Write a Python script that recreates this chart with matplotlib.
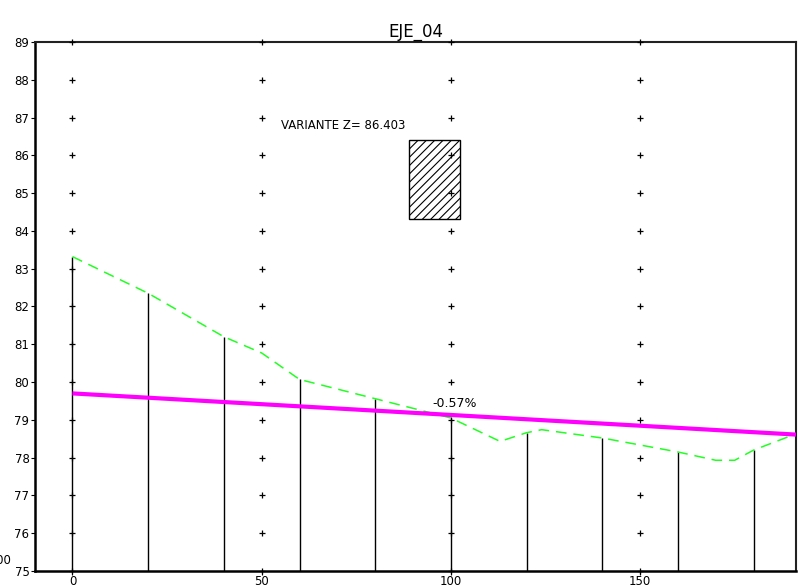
import numpy as np
import matplotlib
matplotlib.use("Agg")
import matplotlib.pyplot as plt
from matplotlib.patches import Rectangle

TITLE = "EJE_04"

# Terrain profile (green dashed)
terrain_x = [0, 20, 40, 50, 60, 80, 100, 113, 120, 124, 140, 160, 170, 175, 180, 191.2]
terrain_z = [83.32, 82.35, 81.2, 80.77, 80.07, 79.56, 79.05, 78.43, 78.66, 78.74, 78.52, 78.15, 77.93, 77.93, 78.2, 78.63]

# Station verticals
station_x = [0, 20, 40, 60, 80, 100, 120, 140, 160, 180]
station_z = [83.32, 82.35, 81.2, 80.07, 79.56, 79.05, 78.66, 78.52, 78.15, 78.2]

# Grade line (magenta)
grade_x = [0, 191.2]
grade_z = [79.70, 78.61]
grade_label = "-0.57%"

# Grid of reference crosses
cross_x = [0, 50, 100, 150]
cross_z = list(range(75, 90))

# Variante box
box_x = [89.0, 102.5]
box_z = [84.32, 86.403]
variante_label = "VARIANTE Z= 86.403"
datum_label = "0.00"

fig = plt.figure(figsize=(8.1, 5.85), dpi=100)
ax = fig.add_axes([35 / 810, 1 - 571 / 585, (796 - 35) / 810, (571 - 42) / 585])

# station verticals
ax.vlines(station_x, 75, station_z, colors="black", linewidth=1.0, zorder=2)

# terrain
ax.plot(terrain_x, terrain_z, color="#22ff22", linewidth=1.1,
        dashes=(7, 4.5), zorder=3)

# grade line
ax.plot(grade_x, grade_z, color="#ff00ff", linewidth=3.0,
        solid_capstyle="butt", zorder=4)
ax.text(95, 79.42, grade_label, fontsize=9, ha="left", va="center", zorder=6)

# hatched box
plt.rcParams["hatch.linewidth"] = 0.8
rect = Rectangle((box_x[0], box_z[0]), box_x[1] - box_x[0], box_z[1] - box_z[0],
                 facecolor="white", edgecolor="black", hatch="////",
                 linewidth=1.0, zorder=3)
ax.add_patch(rect)
ax.text(55, 86.78, variante_label, fontsize=8.5, ha="left", va="center")

# crosses
cx, cz = np.meshgrid(cross_x, cross_z)
ax.plot(cx.ravel(), cz.ravel(), linestyle="none", marker="+", color="black",
        markersize=4, markeredgewidth=0.9, zorder=5, clip_on=False)

ax.set_xlim(-9.9, 191.2)
ax.set_ylim(75, 89)
ax.set_xticks([0, 50, 100, 150])
ax.set_yticks(range(75, 90))
ax.tick_params(axis="both", labelsize=8.5, length=3, width=0.8, pad=1)
ax.tick_params(axis="x", pad=0)
ax.set_title(TITLE, fontsize=12, pad=4)

for side in ["left", "bottom"]:
    ax.spines[side].set_linewidth(1.8)
for side in ["top", "right"]:
    ax.spines[side].set_linewidth(1.5)
    ax.spines[side].set_color("#222222")

fig.text(11 / 810, 1 - 560 / 585, datum_label, fontsize=8.5, ha="right", va="center")

fig.savefig("out.png", dpi=100)
